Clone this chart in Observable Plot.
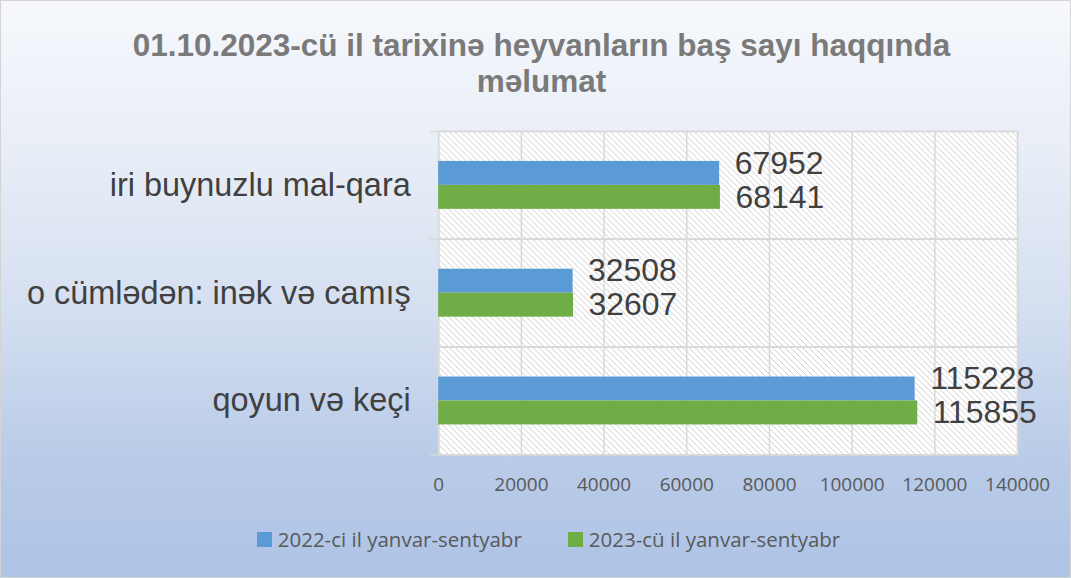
<!DOCTYPE html>
<html>
<head>
<meta charset="utf-8">
<script src="https://cdn.jsdelivr.net/npm/d3@7"></script>
<script src="https://cdn.jsdelivr.net/npm/@observablehq/plot@0.6"></script>
<style>
  html, body { margin: 0; padding: 0; }
  #chart {
    width: 1071px; height: 578px; box-sizing: border-box;
    border: 1px solid #d4d4d4;
    background: linear-gradient(to bottom, #f6f8fc 0%, #e6ecf6 30%, #d3def0 55%, #b9cbe8 80%, #aec3e6 100%);
    position: relative; overflow: hidden;
  }
  #title {
    height: 120px; box-sizing: border-box; padding-top: 26px;
    text-align: center; font-family: "Liberation Sans", Arial, sans-serif;
    font-weight: bold; font-size: 31.5px; line-height: 36px; color: #7a7a7a;
    padding-left: 12px;
  }
  #plot svg { display: block; }
  #legend {
    position: absolute; top: 524px; left: 0; width: 1071px;
    display: flex; justify-content: center; gap: 46px;
    font-family: "Open Sans", sans-serif; font-size: 20.5px; color: #595959;
    padding-left: 24px; box-sizing: border-box;
  }
  .item { display: flex; align-items: center; gap: 6px; }
  .sw { width: 15px; height: 15px; display: inline-block; }
</style>
</head>
<body>
<div id="chart">
  <div id="title">01.10.2023-cü il tarixinə heyvanların baş sayı haqqında<br>məlumat</div>
  <div id="plot"></div>
  <div id="legend"></div>
</div>
<script>
const categories = ["iri buynuzlu mal-qara", "o cümlədən: inək və camış", "qoyun və keçi"];
const series = ["2022-ci il yanvar-sentyabr", "2023-cü il yanvar-sentyabr"];
const values2022 = [67952, 32508, 115228];
const values2023 = [68141, 32607, 115855];
const xTicks = [0, 20000, 40000, 60000, 80000, 100000, 120000, 140000];
const colors = ["#5b9bd5", "#70ad47"];

const data = categories.flatMap((c, i) => [
  {category: c, series: series[0], value: values2022[i]},
  {category: c, series: series[1], value: values2023[i]}
]);

const chart = Plot.plot({
  width: 1071, height: 380,
  marginLeft: 438, marginRight: 53, marginTop: 10, marginBottom: 46,
  style: {background: "transparent", fontFamily: "Liberation Sans, Arial, sans-serif", overflow: "visible"},
  x: {domain: [0, 140000], ticks: xTicks, label: null},
  y: {domain: series, axis: null, paddingInner: 0, paddingOuter: 1.25},
  fy: {domain: categories, padding: 0, label: null},
  color: {domain: series, range: colors},
  marks: [
    Plot.frame({fill: "url(#hatch)"}),
    Plot.gridX({ticks: xTicks, stroke: "#d9d9d9", strokeOpacity: 1, strokeWidth: 1.5}),
    Plot.frame({stroke: "#d9d9d9", strokeWidth: 1.5}),
    Plot.frame({anchor: "top", insetLeft: -8, stroke: "#d9d9d9", strokeWidth: 1.5}),
    Plot.frame({anchor: "bottom", insetLeft: -8, stroke: "#d9d9d9", strokeWidth: 1.5}),
    Plot.barX(data, {x: "value", y: "series", fy: "category", fill: "series"}),
    Plot.text(data.filter(d => d.series === series[0]), {x: "value", y: "series", fy: "category", text: d => String(d.value), dx: 15, dy: -10, textAnchor: "start", fontSize: 32, fill: "#404040"}),
    Plot.text(data.filter(d => d.series === series[1]), {x: "value", y: "series", fy: "category", text: d => String(d.value), dx: 15, dy: 0, textAnchor: "start", fontSize: 32, fill: "#404040"}),
    Plot.axisX({ticks: xTicks, tickSize: 0, tickPadding: 23, fontSize: 19, fill: "#595959", tickFormat: d => String(d), fontFamily: "Open Sans, sans-serif"}),
    Plot.axisFy({anchor: "left", tickSize: 0, tickPadding: 28, fontSize: 32.5, fill: "#404040", label: null})
  ]
});

const defs = d3.select(chart).insert("defs", ":first-child");
const pat = defs.append("pattern").attr("id", "hatch").attr("patternUnits", "userSpaceOnUse")
  .attr("width", 6).attr("height", 6);
pat.append("rect").attr("width", 6).attr("height", 6).attr("fill", "#ffffff");
pat.append("path").attr("d", "M-1,-1 L7,7 M-1,5 L1,7 M5,-1 L7,1")
  .attr("stroke", "#cccccc").attr("stroke-width", 1);

document.getElementById("plot").appendChild(chart);

const legend = document.getElementById("legend");
series.forEach((s, i) => {
  const item = document.createElement("div");
  item.className = "item";
  const sw = document.createElement("span");
  sw.className = "sw";
  sw.style.background = colors[i];
  const t = document.createElement("span");
  t.textContent = s;
  item.appendChild(sw); item.appendChild(t);
  legend.appendChild(item);
});
</script>
</body>
</html>
